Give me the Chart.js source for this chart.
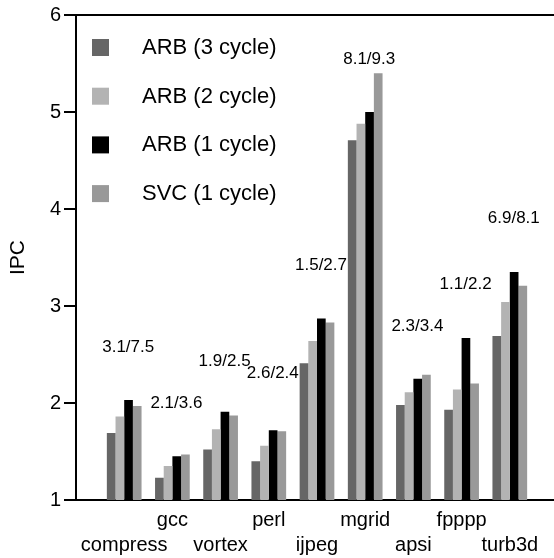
<!DOCTYPE html>
<html>
<head>
<meta charset="utf-8">
<script src="https://cdn.jsdelivr.net/npm/chart.js@4.4.0/dist/chart.umd.min.js"></script>
<style>
  html, body { margin: 0; padding: 0; background: #fff; overflow: hidden; }
  #wrap { width: 554px; height: 558px; overflow: hidden; }
</style>
</head>
<body>
<div id="wrap"><canvas id="ipcChart" width="566" height="558"></canvas></div>
<script>
// IPC per benchmark, four configurations
const benchmarks = ['compress', 'gcc', 'vortex', 'perl', 'ijpeg', 'mgrid', 'apsi', 'fpppp', 'turb3d'];
const arb3 = [1.69, 1.23, 1.52, 1.40, 2.41, 4.71, 1.98, 1.93, 2.69];
const arb2 = [1.86, 1.35, 1.73, 1.56, 2.64, 4.88, 2.11, 2.14, 3.04];
const arb1 = [2.03, 1.45, 1.91, 1.72, 2.87, 5.00, 2.25, 2.67, 3.35];
const svc1 = [1.97, 1.47, 1.87, 1.71, 2.83, 5.40, 2.29, 2.20, 3.21];
const seriesNames = ['ARB (3 cycle)', 'ARB (2 cycle)', 'ARB (1 cycle)', 'SVC (1 cycle)'];
const seriesColors = ['#666666', '#b3b3b3', '#000000', '#999999'];
// text notes above each group and the IPC height they sit at
const notes = ['3.1/7.5', '2.1/3.6', '1.9/2.5', '2.6/2.4', '1.5/2.7', '8.1/9.3', '2.3/3.4', '1.1/2.2', '6.9/8.1'];
const noteY = [2.57, 2.00, 2.43, 2.31, 3.42, 5.54, 2.79, 3.22, 3.90];
const yTicks = [1, 2, 3, 4, 5, 6];

const FONT = '"Liberation Sans", Arial, sans-serif';

// empty slot at each end, labels alternate between two rows
const labels = [''].concat(benchmarks.map((b, i) => i % 2 ? [b, ''] : ['', b]), ['']);
const pad = arr => [null].concat(arr, [null]);

const legendPlugin = {
    id: 'boxLegend',
    afterDatasetsDraw(chart) {
        const ctx = chart.ctx;
        ctx.save();
        ctx.font = '22px ' + FONT;
        ctx.textBaseline = 'middle';
        ctx.textAlign = 'left';
        chart.data.datasets.forEach((ds, i) => {
            const top = 39 + i * 48.7;
            ctx.fillStyle = ds.backgroundColor;
            ctx.fillRect(92, top, 17, 17);
            ctx.fillStyle = '#000';
            ctx.fillText(ds.label, 142, top + 9);
        });
        ctx.restore();
    }
};

const notePlugin = {
    id: 'groupNotes',
    afterDatasetsDraw(chart) {
        const ctx = chart.ctx;
        const xs = chart.scales.x, ys = chart.scales.y;
        ctx.save();
        ctx.font = '17px ' + FONT;
        ctx.fillStyle = '#000';
        ctx.textAlign = 'center';
        ctx.textBaseline = 'middle';
        notes.forEach((t, i) => {
            ctx.fillText(t, xs.getPixelForValue(i + 1) + 4, ys.getPixelForValue(noteY[i]));
        });
        ctx.restore();
    }
};

new Chart(document.getElementById('ipcChart'), {
    type: 'bar',
    data: {
        labels: labels,
        datasets: [arb3, arb2, arb1, svc1].map((d, i) => ({
            label: seriesNames[i],
            data: pad(d),
            backgroundColor: seriesColors[i],
            borderWidth: 0,
            categoryPercentage: 0.72,
            barPercentage: 1
        }))
    },
    options: {
        responsive: false,
        animation: false,
        layout: { padding: { left: 0, right: 7, top: 15, bottom: 0 } },
        plugins: {
            legend: { display: false },
            tooltip: { enabled: false }
        },
        scales: {
            x: {
                offset: false,
                afterFit: s => { s.height = 58; },
                grid: { display: true, drawOnChartArea: false, drawTicks: false },
                border: { display: true, color: '#000', width: 2 },
                ticks: {
                    color: '#000',
                    font: { family: FONT, size: 20, lineHeight: 1.25 },
                    padding: 8,
                    maxRotation: 0,
                    autoSkip: false
                }
            },
            y: {
                min: 1,
                max: 6,
                afterBuildTicks: s => { s.ticks = yTicks.map(v => ({ value: v })); },
                afterFit: s => { s.width = 76; },
                grid: {
                    color: c => (c.tick && c.tick.value === 6) ? '#000' : 'rgba(0,0,0,0)',
                    tickColor: '#000',
                    lineWidth: 2,
                    tickLength: 12,
                    drawOnChartArea: true
                },
                border: { display: true, color: '#000', width: 2 },
                ticks: {
                    color: '#000',
                    font: { family: FONT, size: 20 },
                    padding: 3
                },
                title: {
                    display: true,
                    text: 'IPC',
                    color: '#000',
                    font: { family: FONT, size: 21 },
                    padding: { top: 6, bottom: 0 }
                }
            }
        }
    },
    plugins: [legendPlugin, notePlugin]
});
</script>
</body>
</html>
